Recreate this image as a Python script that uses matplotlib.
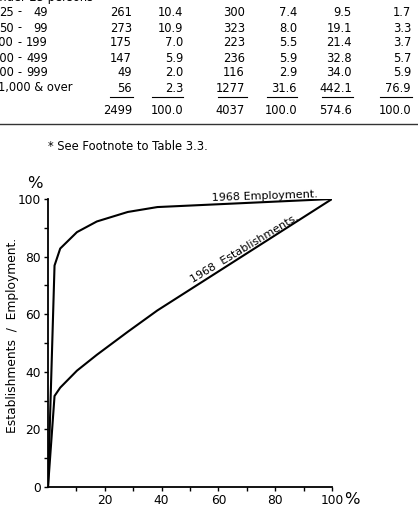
import numpy as np
import matplotlib
matplotlib.use("Agg")
import matplotlib.pyplot as plt
from matplotlib.lines import Line2D

plt.rcParams['font.family'] = ['DejaVu Sans']

# table rows (top is cut off in the scan)
size_lo = ["", "25", "50", "100", "200", "500", ""]
size_hi = ["", "49", "99", "199", "499", "999", ""]
size_text = ["Under 25 persons", "", "", "", "", "", "1,000 & over"]
firms = ["1538", "261", "273", "175", "147", "49", "56"]
firms_pct = ["61.5", "10.4", "10.9", "7.0", "5.9", "2.0", "2.3"]
estab = ["1562", "300", "323", "223", "236", "116", "1277"]
estab_pct = ["38.7", "7.4", "8.0", "5.5", "5.9", "2.9", "31.6"]
employ = ["15.7", "9.5", "19.1", "21.4", "32.8", "34.0", "442.1"]
employ_pct = ["2.8", "1.7", "3.3", "3.7", "5.7", "5.9", "76.9"]
totals = ["2499", "100.0", "4037", "100.0", "574.6", "100.0"]
footnote = "* See Footnote to Table 3.3."

# cumulative curve (from largest size class down)
cum_x = [0, 2.3, 4.3, 10.2, 17.2, 28.1, 38.5, 100]
cum_emp = [0, 76.9, 82.8, 88.5, 92.2, 95.5, 97.2, 100]
cum_est = [0, 31.6, 34.5, 40.4, 45.9, 53.9, 61.3, 100]

W, H = 418, 508
fig = plt.figure(figsize=(W / 100, H / 100), dpi=100)


def fx(px):
    return px / W


def fy(py):
    return 1 - py / H


fs = 8.8
tfs = 8.3
col_right = [132, 183, 245, 297, 352, 411]
row_y = [-3, 12, 28, 43, 58, 73, 88]
for i in range(len(firms)):
    y = fy(row_y[i])
    if size_text[i]:
        x0 = -9 if i == 0 else -2
        fig.text(fx(x0), y, size_text[i], fontsize=tfs, va='center', ha='left')
    else:
        fig.text(fx(14), y, size_lo[i], fontsize=tfs, va='center', ha='right')
        fig.text(fx(20), y, "-", fontsize=tfs, va='center', ha='center')
        fig.text(fx(48), y, size_hi[i], fontsize=tfs, va='center', ha='right')
    vals = [firms[i], firms_pct[i], estab[i], estab_pct[i], employ[i], employ_pct[i]]
    for xr, v in zip(col_right, vals):
        fig.text(fx(xr), y, v, fontsize=tfs, va='center', ha='right')

# underlines under last row
for x0, x1 in [(110, 133), (152, 183), (218, 247), (267, 297), (322, 353), (380, 412)]:
    fig.add_artist(Line2D([fx(x0), fx(x1)], [fy(97), fy(97)], color='black', lw=0.8))

for xr, v in zip(col_right, totals):
    fig.text(fx(xr), fy(110), v, fontsize=tfs, va='center', ha='right')

fig.add_artist(Line2D([0, 1], [fy(124), fy(124)], color='#333333', lw=1.0))
fig.text(fx(48), fy(147), footnote, fontsize=tfs, va='center', ha='left')

# chart
ax = fig.add_axes([fx(48), fy(487), fx(332) - fx(48), fy(199) - fy(487)])
ax.plot(cum_x, cum_emp, color='black', lw=1.5, solid_joinstyle='round')
ax.plot(cum_x, cum_est, color='black', lw=1.5, solid_joinstyle='round')
ax.set_xlim(0, 100)
ax.set_ylim(0, 100)
for s in ['top', 'right']:
    ax.spines[s].set_visible(False)
for s in ['left', 'bottom']:
    ax.spines[s].set_linewidth(1.3)
ax.set_xticks([20, 40, 60, 80, 100])
ax.set_xticklabels(["20", "40", "60", "80", "100"])
ax.set_xticks([10, 30, 50, 70, 90], minor=True)
ax.set_yticks([0, 20, 40, 60, 80, 100])
ax.set_yticks([10, 30, 50, 70, 90], minor=True)
ax.tick_params(which='both', direction='out', length=3, width=1, labelsize=fs, pad=2)

ax.text(76.4, 99.9, "1968 Employment.", fontsize=8, rotation=2,
        ha='center', va='baseline', rotation_mode='anchor')
ax.text(69.7, 81.8, "1968  Establishments.", fontsize=8, rotation=31,
        ha='center', va='baseline', rotation_mode='anchor')

fig.text(fx(35), fy(184), "%", fontsize=fs + 3, ha='center', va='center')
fig.text(fx(352), fy(500), "%", fontsize=fs + 3, ha='center', va='center')
fig.text(fx(13), fy(335), "Establishments  /  Employment.", fontsize=fs,
         rotation=90, ha='center', va='center')

plt.savefig("out.png", dpi=100)
